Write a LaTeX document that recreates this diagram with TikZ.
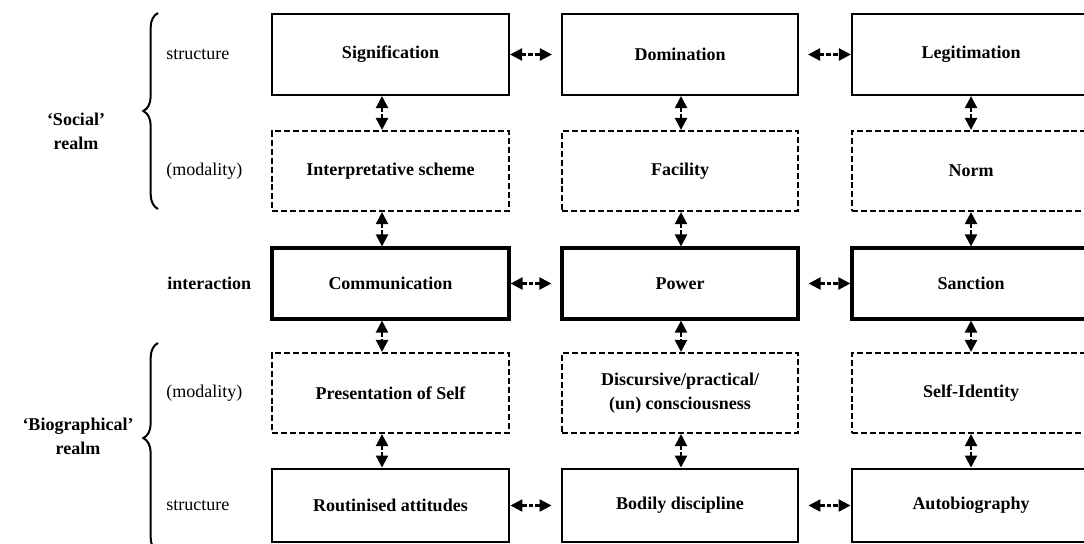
\documentclass[tikz,border=0pt]{standalone}
\usepackage{fontspec}
\setmainfont{Liberation Serif}
\usetikzlibrary{arrows.meta,decorations.pathreplacing}
\begin{document}
\begin{tikzpicture}[x=0.75pt,y=-0.75pt,
  txt/.style={font=\fontsize{13.5}{18}\selectfont},
  lbl/.style={font=\fontsize{13.5}{18}\selectfont\bfseries, align=center, inner sep=0pt},
  solidbox/.style={draw, line width=1.6pt, lbl},
  interbox/.style={draw, line width=2.4pt, lbl},
  basebox/.style={draw, line width=2.2pt, lbl},
  dashbox/.style={draw, line width=1.6pt, dash pattern=on 4.5pt off 2.2pt, lbl},
  rowA/.style={minimum height=60.75pt},
  rowB/.style={minimum height=60pt},
  rowC/.style={minimum height=53.25pt},
  rowD/.style={minimum height=54.75pt},
  colA/.style={minimum width=177.75pt},
  colB/.style={minimum width=177pt},
  colC/.style={minimum width=178.5pt},
  arr/.style={{Triangle[length=9pt,width=9pt]}-{Triangle[length=9pt,width=9pt]}, line width=1.7pt, dash pattern=on 3.5pt off 1.5pt},
  side/.style={txt, anchor=west, inner sep=0pt},
  realm/.style={font=\fontsize{13.5}{18}\selectfont\bfseries, align=center, inner sep=0pt},
  bracestyle/.style={line width=1.5pt, decorate}
]
\path[use as bounding box] (0,0) rectangle (1084,543);
\clip (0,0) rectangle (1084,543);

% row 1: structure
\node[solidbox, colA, rowA] (sig) at (390.5,54.5) {Signification};
\node[solidbox, colB, rowA] (dom) at (680,54.5) {Domination};
\node[solidbox, colC, rowA] (leg) at (971,54.5) {Legitimation};
% row 2: modality
\node[dashbox, colA, rowB] (isch) at (390.5,171) {Interpretative scheme};
\node[dashbox, colB, rowB] (fac) at (680,171) {Facility};
\node[dashbox, colC, rowB] (norm) at (971,171) {Norm};
% row 3: interaction
\node[interbox, colA, rowC] (com) at (390.5,283.5) {Communication};
\node[interbox, colB, rowC] (pow) at (680,283.5) {Power};
\node[interbox, colC, rowC] (san) at (971,283.5) {Sanction};
% row 4: modality
\node[dashbox, colA, rowB] (pres) at (390.5,393) {Presentation of Self};
\node[dashbox, colB, rowB] (disc) at (680,393) {Discursive/practical/\\(un) consciousness};
\node[dashbox, colC, rowB] (sid) at (971,393) {Self-Identity};
% row 5: structure
\node[basebox, colA, rowD] (rout) at (390.5,505.5) {Routinised attitudes};
\node[basebox, colB, rowD] (body) at (680,505.5) {Bodily discipline};
\node[basebox, colC, rowD] (auto) at (971,505.5) {Autobiography};

% column x positions of vertical arrows
\coordinate (xa) at (382,0);
\coordinate (xb) at (681,0);
\coordinate (xc) at (971,0);

% horizontal arrows
\foreach \l/\r in {sig/dom, com/pow, rout/body}
  \draw[arr, shorten >=6.75pt] (\l) -- (\r);
\foreach \l/\r in {dom/leg, pow/san, body/auto}
  \draw[arr, shorten <=6.75pt] (\l) -- (\r);

% vertical arrows
\foreach \t/\b/\x in {sig/isch/xa, isch/com/xa, com/pres/xa, pres/rout/xa,
                      dom/fac/xb, fac/pow/xb, pow/disc/xb, disc/body/xb,
                      leg/norm/xc, norm/san/xc, san/sid/xc, sid/auto/xc}
  \draw[arr] (\t.south -| \x) -- (\b.north -| \x);

% side labels
\node[side] (s1) at (166,54.5) {structure};
\node[side] (m1) at (166,171) {(modality)};
\node[side, font=\fontsize{13.5}{18}\selectfont\bfseries] (ia) at (167,283.5) {interaction};
\node[side] (m2) at (166,393) {(modality)};
\node[side] (s2) at (166,505.5) {structure};

% braces
\draw[bracestyle, decoration={brace, amplitude=11pt, aspect=0.5}] (158,209) -- (158,13);
\draw[bracestyle, decoration={brace, amplitude=11pt, aspect=0.545}] (158,552) -- (158,343);

\node[realm] (soc) at (76,131) {‘Social’\\realm};
\node[realm] (bio) at (78,436) {‘Biographical’\\realm};
\end{tikzpicture}
\end{document}
